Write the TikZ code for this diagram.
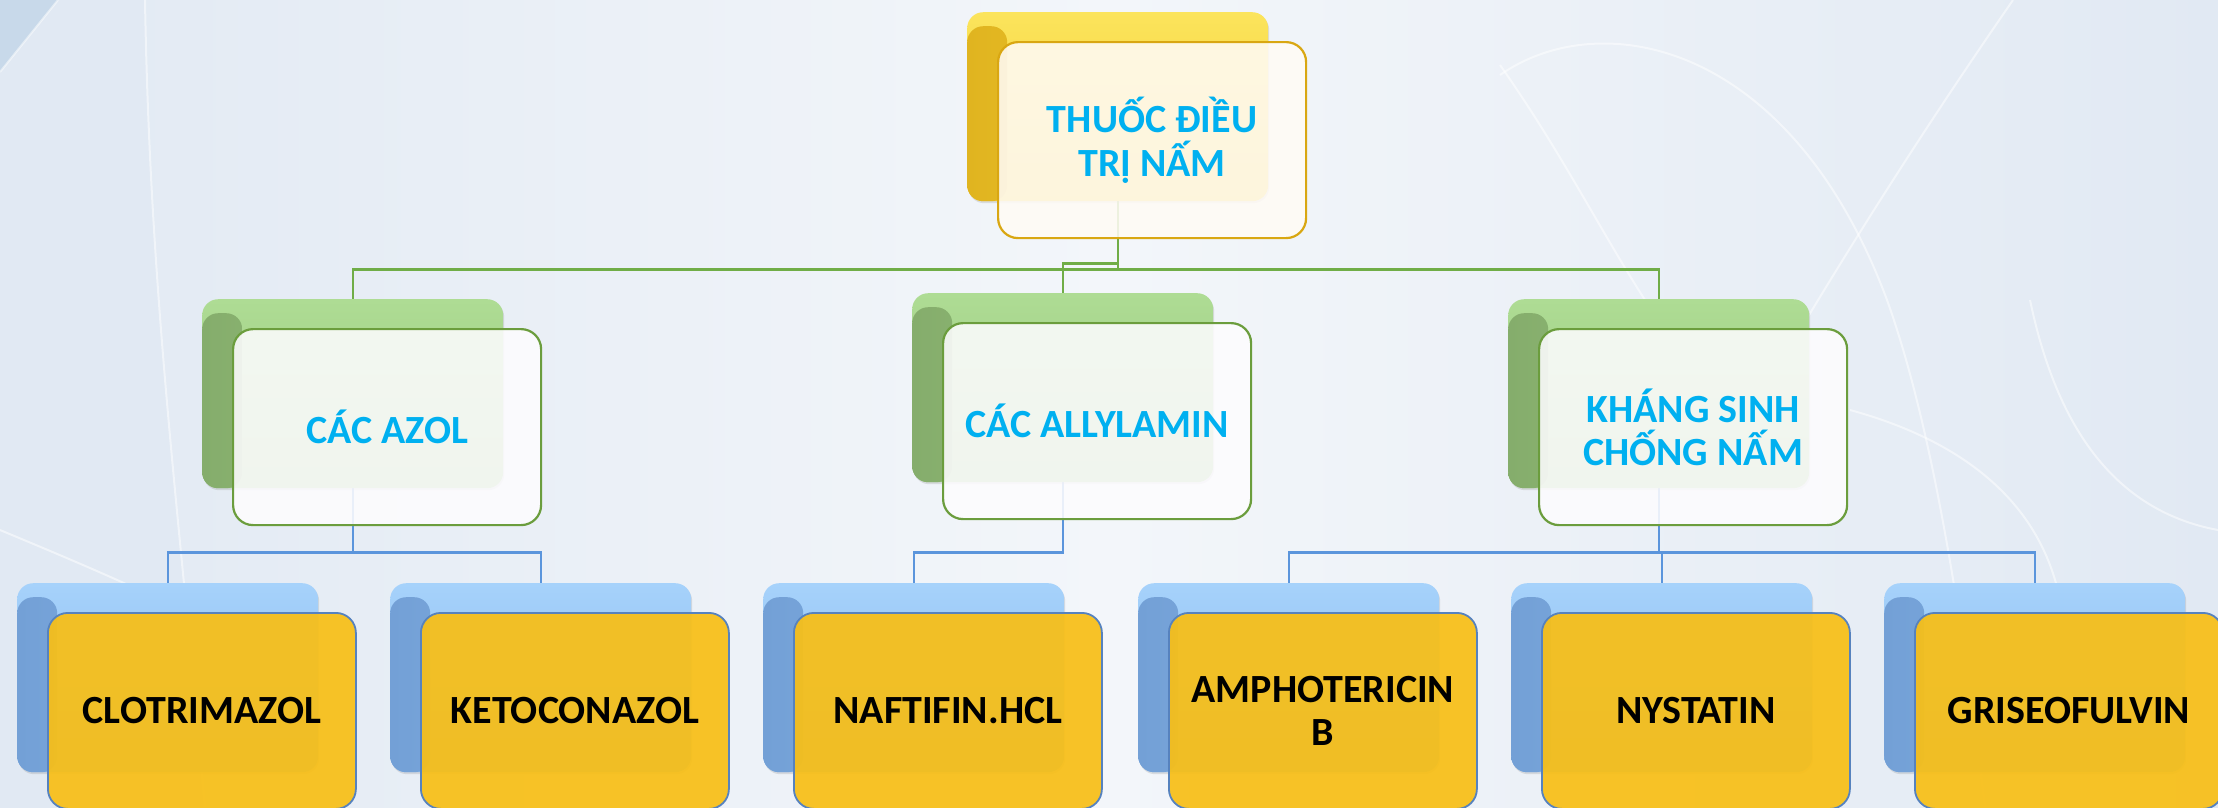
\documentclass[tikz,border=0pt]{standalone}
\usepackage{fontspec}
\setmainfont{Carlito}
\usetikzlibrary{calc,shadows}

\definecolor{bgEdge}{HTML}{E1E9F3}
\definecolor{bgMid}{HTML}{F3F6FA}
\definecolor{bgCorner}{HTML}{C8D9EA}
\definecolor{txtBlue}{HTML}{00B0F0}
\definecolor{lnGreen}{HTML}{70AD47}
\definecolor{lnBlue}{HTML}{5B95DC}
\definecolor{ylLight}{HTML}{FBE45C}
\definecolor{ylMain}{HTML}{F3CB2E}
\definecolor{ylDark}{HTML}{E0B420}
\definecolor{grLight}{HTML}{AEDC94}
\definecolor{grMain}{HTML}{98C47C}
\definecolor{grDark}{HTML}{85AD6C}
\definecolor{blLight}{HTML}{A6D2FB}
\definecolor{blMain}{HTML}{86B5E8}
\definecolor{blDark}{HTML}{73A0D6}
\definecolor{goldFill}{HTML}{F8BF17}
\definecolor{creamFill}{HTML}{FFFBF5}
\definecolor{paleFill}{HTML}{FDFCFE}
\definecolor{edgeGold}{HTML}{D9A712}
\definecolor{edgeGreen}{HTML}{6B9D3D}
\definecolor{edgeBlue}{HTML}{5682BE}

\pgfdeclarelayer{bg}
\pgfdeclarelayer{links}
\pgfsetlayers{bg,links,main}

\newcommand{\toptxt}{\fontsize{40}{44}\selectfont\bfseries}
\newcommand{\midtxt}{\fontsize{40}{43}\selectfont\bfseries}
\newcommand{\lowtxt}{\fontsize{40}{43}\selectfont\bfseries}

\tikzset{
  backbox/.style n args={3}{rectangle, rounded corners=16pt, minimum width=301pt,
    minimum height=189pt, inner sep=0pt, anchor=north west,
    top color=#1, bottom color=#2,
    drop shadow={shadow xshift=1pt, shadow yshift=-2pt, opacity=0.22},
    path picture={\shade[left color=#3, right color=#2]
      (path picture bounding box.north west) ++(0,-14pt) rectangle
      ([xshift=40pt]path picture bounding box.south west);}},
  yback/.style={backbox={ylLight}{ylMain}{ylDark}},
  gback/.style={backbox={grLight}{grMain}{grDark}},
  bback/.style={backbox={blLight}{blMain}{blDark}},
  frontbox/.style={rectangle, rounded corners=20pt, minimum width=308pt,
    minimum height=196pt, inner sep=0pt, anchor=north west, align=center,
    line width=2.2pt, fill opacity=0.88, text opacity=1},
  topfront/.style={frontbox, draw=edgeGold, fill=creamFill, text=txtBlue, font=\toptxt},
  midfront/.style={frontbox, draw=edgeGreen, fill=paleFill, text=txtBlue, font=\midtxt},
  lowfront/.style={frontbox, draw=edgeBlue, line width=1.8pt, fill=goldFill,
    fill opacity=0.93, text=black, font=\lowtxt},
  glink/.style={draw=lnGreen, line width=2.4pt},
  blink/.style={draw=lnBlue, line width=2.4pt},
  swirl/.style={draw=white, line width=2pt, opacity=0.5}
}

\begin{document}
\begin{tikzpicture}[x=1pt, y=-1pt]
\useasboundingbox (0,0) rectangle (2218,807);

% soft backdrop with a few light sweeping curves
\begin{pgfonlayer}{bg}
  \shade[left color=bgEdge, right color=bgEdge, middle color=bgMid] (0,0) rectangle (2218,807);
  \fill[bgEdge, opacity=0.7] (0,0) -- (145,0) .. controls (150,300) and (180,520) .. (205,807) -- (0,807) -- cycle;
  \fill[bgCorner] (0,0) -- (58,0) -- (0,72) -- cycle;
  \draw[swirl] (58,0) -- (0,72);
  \draw[swirl] (145,0) .. controls (150,300) and (180,520) .. (205,807);
  \draw[swirl] (0,530) .. controls (60,555) and (120,580) .. (175,607);
  \draw[swirl] (1500,75) .. controls (1600,5) and (1790,40) .. (1887,300)
               .. controls (1930,420) and (1960,600) .. (1985,807);
  \draw[swirl] (2013,0) .. controls (1930,120) and (1860,230) .. (1800,330);
  \draw[swirl] (1500,65) .. controls (1560,150) and (1600,230) .. (1645,300);
  \draw[swirl] (2030,300) .. controls (2055,420) and (2110,510) .. (2218,530);
  \draw[swirl] (1850,410) .. controls (1960,440) and (2040,500) .. (2060,600);
\end{pgfonlayer}

% root
\node[yback] (tb) at (967,12) {};
\node[topfront] (tf) at (997,41) {THUỐC ĐIỀU\\TRỊ NẤM};

% second level
\node[gback] (m1) at (202,299) {};
\node[midfront] (m1f) at (232,328) {CÁC AZOL};
\node[gback] (m2) at (912,293) {};
\node[midfront] (m2f) at (942,322) {CÁC ALLYLAMIN};
\node[gback] (m3) at (1508,299) {};
\node[midfront] (m3f) at (1538,328) {KHÁNG SINH\\CHỐNG NẤM};

% third level
\node[bback] (b1) at (17,583) {};
\node[lowfront] (b1f) at (47,612) {CLOTRIMAZOL};
\node[bback] (b2) at (390,583) {};
\node[lowfront] (b2f) at (420,612) {KETOCONAZOL};
\node[bback] (b3) at (763,583) {};
\node[lowfront] (b3f) at (793,612) {NAFTIFIN.HCL};
\node[bback] (b4) at (1138,583) {};
\node[lowfront] (b4f) at (1168,612) {AMPHOTERICIN\\B};
\node[bback] (b5) at (1511,583) {};
\node[lowfront] (b5f) at (1541,612) {NYSTATIN};
\node[bback] (b6) at (1884,583) {};
\node[lowfront] (b6f) at (1914,612) {GRISEOFULVIN};

% elbow connectors, kept beneath the boxes
\begin{pgfonlayer}{links}
  \draw[glink] (tb.south) -- ++(0,68) -| (m1.north);
  \draw[glink] (tb.south) -- ++(0,68) -| (m3.north);
  \draw[glink] (tb.south) -- ++(0,62) -| (m2.north);
  \draw[blink] (m1.south) -- ++(0,64) -| (b1.north);
  \draw[blink] (m1.south) -- ++(0,64) -| (b2.north);
  \draw[blink] (m2.south) -- ++(0,70) -| (b3.north);
  \draw[blink] (m3.south) -- ++(0,64) -| (b4.north);
  \draw[blink] (m3.south) -- ++(0,64) -| (b5.north);
  \draw[blink] (m3.south) -- ++(0,64) -| (b6.north);
\end{pgfonlayer}
\end{tikzpicture}
\end{document}
